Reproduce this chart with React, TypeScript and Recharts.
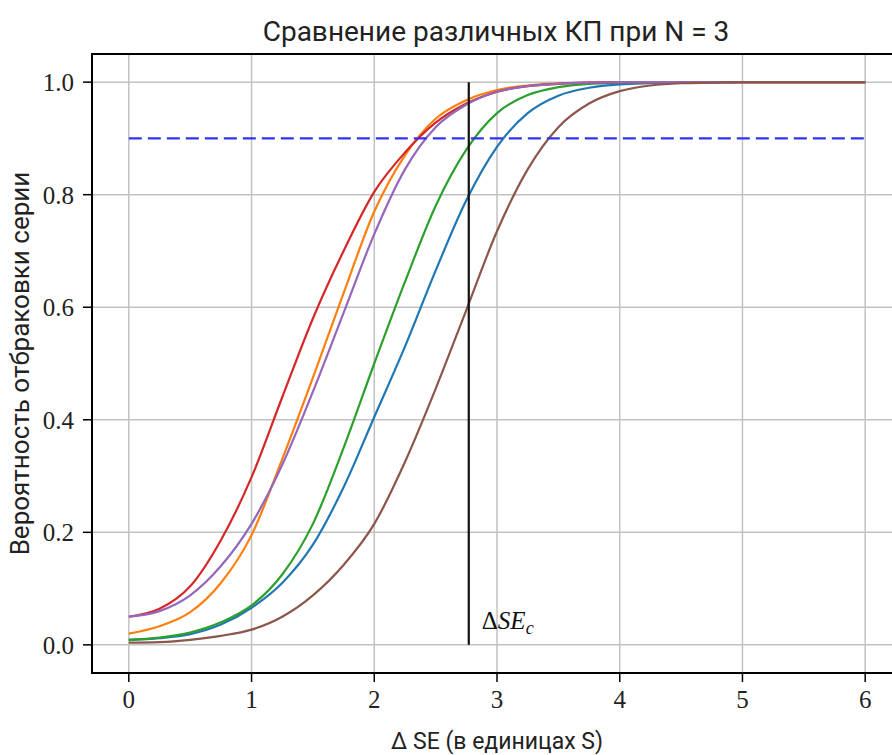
import React from 'react';
import { LineChart, Line, XAxis, YAxis, CartesianGrid, ReferenceLine, ReferenceArea } from 'recharts';

const xValues = [0, 0.25, 0.5, 0.75, 1, 1.25, 1.5, 1.75, 2, 2.25, 2.5, 2.75, 3, 3.25, 3.5, 3.75, 4, 4.25, 4.5, 4.75, 5, 5.25, 5.5, 5.75, 6];

const blueSeries = [0.009, 0.012, 0.019, 0.036, 0.066, 0.11, 0.178, 0.28, 0.405, 0.53, 0.665, 0.79, 0.885, 0.945, 0.976, 0.99, 0.996, 0.998, 0.999, 1, 1, 1, 1, 1, 1];
const orangeSeries = [0.02, 0.033, 0.058, 0.11, 0.195, 0.33, 0.475, 0.625, 0.77, 0.87, 0.935, 0.968, 0.986, 0.994, 0.998, 0.999, 1, 1, 1, 1, 1, 1, 1, 1, 1];
const greenSeries = [0.009, 0.013, 0.022, 0.04, 0.07, 0.125, 0.215, 0.35, 0.5, 0.645, 0.78, 0.88, 0.945, 0.977, 0.991, 0.997, 0.999, 1, 1, 1, 1, 1, 1, 1, 1];
const redSeries = [0.05, 0.064, 0.104, 0.186, 0.298, 0.44, 0.58, 0.7, 0.805, 0.875, 0.928, 0.962, 0.983, 0.993, 0.997, 0.999, 1, 1, 1, 1, 1, 1, 1, 1, 1];
const purpleSeries = [0.05, 0.06, 0.088, 0.14, 0.215, 0.32, 0.45, 0.59, 0.73, 0.845, 0.92, 0.96, 0.983, 0.993, 0.997, 0.999, 1, 1, 1, 1, 1, 1, 1, 1, 1];
const brownSeries = [0.004, 0.005, 0.009, 0.016, 0.027, 0.05, 0.088, 0.142, 0.215, 0.325, 0.455, 0.595, 0.735, 0.845, 0.92, 0.962, 0.984, 0.994, 0.998, 0.999, 1, 1, 1, 1, 1];

const xTicks = [0, 1, 2, 3, 4, 5, 6];
const yTicks = [0, 0.2, 0.4, 0.6, 0.8, 1.0];
const thresholdLevel = 0.9;
const thresholdStart = 0;
const thresholdEnd = 6;
const criticalShift = 2.77;

const titleText = 'Сравнение различных КП при N = 3';
const xLabelText = 'Δ SE (в единицах S)';
const yLabelText = 'Вероятность отбраковки серии';

const data = xValues.map((x, i) => ({
  x,
  blue: blueSeries[i],
  orange: orangeSeries[i],
  green: greenSeries[i],
  red: redSeries[i],
  purple: purpleSeries[i],
  brown: brownSeries[i],
}));

const serif = '"Liberation Serif", "DejaVu Serif", serif';
const sans = 'Roboto, "Liberation Sans", sans-serif';

const CriticalLabel = (props: any) => {
  const vb = props.viewBox || {};
  const x = (vb.x ?? 0) + 13;
  const y = (vb.y ?? 0) + (vb.height ?? 0) - 16;
  return (
    <text x={x} y={y} fontFamily={serif} fontSize={25} fill="#111">
      <tspan>Δ</tspan>
      <tspan fontStyle="italic">SE</tspan>
      <tspan fontStyle="italic" fontSize={18} dy={5}>c</tspan>
    </text>
  );
};

const XLabel = (props: any) => {
  const vb = props.viewBox || {};
  return (
    <text x={(vb.x ?? 0) + (vb.width ?? 0) / 2} y={(vb.y ?? 0) + 76} textAnchor="middle" fontFamily={sans} fontSize={23} fill="#222">
      {xLabelText}
    </text>
  );
};

const YLabel = (props: any) => {
  const vb = props.viewBox || {};
  const cx = 29;
  const cy = (vb.y ?? 0) + (vb.height ?? 0) / 2;
  return (
    <text x={cx} y={cy} textAnchor="middle" fontFamily={sans} fontSize={26} fill="#222" transform={`rotate(-90 ${cx} ${cy})`}>
      {yLabelText}
    </text>
  );
};

export default function App() {
  return (
    <div style={{ position: 'absolute', left: 0, top: 0, width: 892, height: 755, overflow: 'hidden', background: '#fff' }}>
      <LineChart width={920} height={755} data={data} margin={{ top: 54, right: 18, bottom: 0, left: 0 }}>
        <CartesianGrid stroke="#c2c2c2" strokeWidth={1.5} />
        <XAxis
          dataKey="x"
          type="number"
          domain={[-0.3, 6.3]}
          ticks={xTicks}
          allowDataOverflow
          height={82}
          axisLine={false}
          tickSize={9}
          tickMargin={8}
          tickLine={{ stroke: '#000', strokeWidth: 1.5 }}
          tick={{ fontFamily: serif, fontSize: 25, fill: '#222' }}
          label={{ content: XLabel }}
        />
        <YAxis
          type="number"
          domain={[-0.05, 1.05]}
          ticks={yTicks}
          allowDataOverflow
          width={92}
          axisLine={false}
          tickSize={9}
          tickMargin={9}
          tickLine={{ stroke: '#000', strokeWidth: 1.5 }}
          tick={{ fontFamily: serif, fontSize: 25, fill: '#222' }}
          tickFormatter={(v: number) => v.toFixed(1)}
          label={{ content: YLabel }}
        />
        <ReferenceArea x1={-0.3} x2={6.3} y1={-0.05} y2={1.05} fill="none" stroke="#000" strokeWidth={2} ifOverflow="visible" />
        <Line dataKey="blue" type="monotone" stroke="#1f77b4" strokeWidth={2.2} dot={false} isAnimationActive={false} />
        <Line dataKey="orange" type="monotone" stroke="#ff7f0e" strokeWidth={2.2} dot={false} isAnimationActive={false} />
        <Line dataKey="green" type="monotone" stroke="#2ca02c" strokeWidth={2.2} dot={false} isAnimationActive={false} />
        <Line dataKey="red" type="monotone" stroke="#d62728" strokeWidth={2.2} dot={false} isAnimationActive={false} />
        <Line dataKey="purple" type="monotone" stroke="#9467bd" strokeWidth={2.2} dot={false} isAnimationActive={false} />
        <Line dataKey="brown" type="monotone" stroke="#8c564b" strokeWidth={2.2} dot={false} isAnimationActive={false} />
        <ReferenceLine
          segment={[{ x: thresholdStart, y: thresholdLevel }, { x: thresholdEnd, y: thresholdLevel }]}
          stroke="#3333ee"
          strokeWidth={2.4}
          strokeDasharray="13 6"
        />
        <ReferenceLine
          segment={[{ x: criticalShift, y: 0 }, { x: criticalShift, y: 1 }]}
          stroke="#111"
          strokeWidth={2.2}
          label={{ content: CriticalLabel }}
        />
      </LineChart>
      <svg width={892} height={60} style={{ position: 'absolute', left: 0, top: 0, pointerEvents: 'none' }}>
        <text x={496} y={41} textAnchor="middle" fontFamily={sans} fontSize={28} fill="#222">
          {titleText}
        </text>
      </svg>
    </div>
  );
}
